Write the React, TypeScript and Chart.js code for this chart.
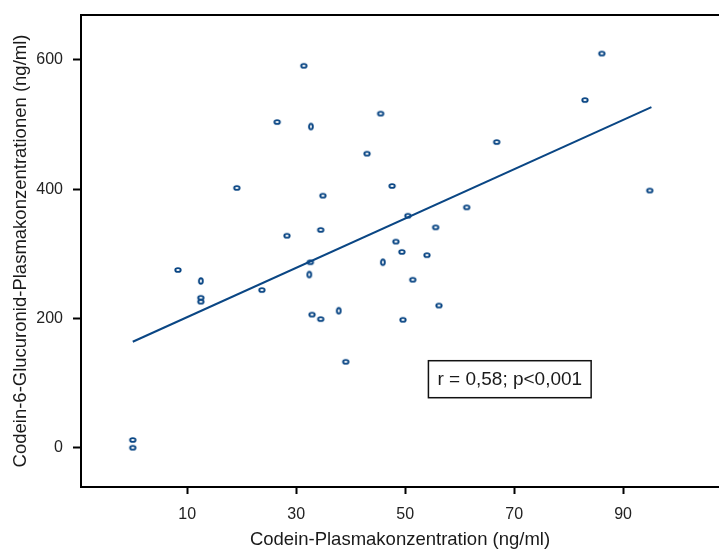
import React, { useEffect, useRef } from "react";
import { Chart, registerables } from "chart.js";

Chart.register(...registerables);

// Horizontal-ellipse markers
const pointsX = [31.4, 26.5, 19.1, 34.9, 45.5, 43.0, 66.8, 47.6, 61.3, 50.5, 55.6, 8.3, 12.5, 12.5, 23.7, 28.3, 34.5, 32.6, 32.9, 34.5, 39.1, 48.3, 49.4, 54.0, 51.4, 56.2, 49.6, 86.1, 83.0, 94.9, 0.0, 0.0];
const pointsY = [591, 504, 402, 390, 517, 455, 473, 405, 372, 359, 341, 275, 232, 226, 244, 328, 337, 287, 206, 199, 133, 319, 303, 298, 260, 220, 198, 610, 538, 398, 12, 0];
// Vertical-ellipse markers
const vPointsX = [32.7, 12.5, 32.4, 37.8, 45.9];
const vPointsY = [497, 258, 268, 212, 287];
// Regression line end points
const regX = [0.0, 95.2];
const regY = [164, 527];

const xTicks = [10, 30, 50, 70, 90];
const yTicks = [0, 200, 400, 600];

const xTitle = "Codein-Plasmakonzentration (ng/ml)";
const yTitle = "Codein-6-Glucuronid-Plasmakonzentrationen (ng/ml)";
const statText = "r = 0,58; p<0,001";
const statAt = { x: 69.2, y: 106 };

const BLUE = "#0a4684";
const FONT = "'Liberation Sans', Arial, sans-serif";

function makeEllipse(rx: number, ry: number) {
  const c = document.createElement("canvas");
  c.width = 10;
  c.height = 10;
  const ctx = c.getContext("2d")!;
  ctx.strokeStyle = BLUE;
  ctx.lineWidth = 1.9;
  ctx.beginPath();
  ctx.ellipse(5, 5, rx, ry, 0, 0, Math.PI * 2);
  ctx.stroke();
  return c;
}

export default function App() {
  const ref = useRef<HTMLCanvasElement | null>(null);

  useEffect(() => {
    if (!ref.current) return;
    const hImg = makeEllipse(2.7, 1.9);
    const vImg = makeEllipse(1.9, 2.8);

    const framePlugin = {
      id: "frame",
      afterDraw(chart: any) {
        const { ctx, chartArea, scales } = chart;
        ctx.save();
        ctx.strokeStyle = "#000";
        ctx.lineWidth = 2;
        ctx.beginPath();
        ctx.moveTo(chartArea.left - 1, chartArea.top);
        ctx.lineTo(chartArea.right, chartArea.top);
        ctx.stroke();

        // stat box
        ctx.font = `19px ${FONT}`;
        const w = ctx.measureText(statText).width + 18;
        const h = 37;
        const cx = scales.x.getPixelForValue(statAt.x);
        const cy = scales.y.getPixelForValue(statAt.y);
        ctx.fillStyle = "#fff";
        ctx.fillRect(cx - w / 2, cy - h / 2, w, h);
        ctx.lineWidth = 1.5;
        ctx.strokeStyle = "#111";
        ctx.strokeRect(cx - w / 2, cy - h / 2, w, h);
        ctx.fillStyle = "#1a1a1a";
        ctx.textAlign = "center";
        ctx.textBaseline = "middle";
        ctx.fillText(statText, cx, cy + 1);
        ctx.restore();
      },
    };

    const chart = new Chart(ref.current, {
      type: "scatter",
      data: {
        datasets: [
          {
            data: regX.map((x, i) => ({ x, y: regY[i] })),
            showLine: true,
            borderColor: BLUE,
            borderWidth: 2,
            pointRadius: 0,
          },
          {
            data: pointsX.map((x, i) => ({ x, y: pointsY[i] })),
            pointStyle: hImg as any,
          },
          {
            data: vPointsX.map((x, i) => ({ x, y: vPointsY[i] })),
            pointStyle: vImg as any,
          },
        ],
      },
      options: {
        animation: false,
        responsive: false,
        layout: { autoPadding: false, padding: { top: 15, right: 0, left: 0, bottom: 0 } },
        plugins: { legend: { display: false }, tooltip: { enabled: false } },
        scales: {
          x: {
            type: "linear",
            min: -9.5,
            max: 107.6,
            afterBuildTicks: (s: any) => {
              s.ticks = xTicks.map((v) => ({ value: v }));
            },
            afterFit: (s: any) => {
              s.height = 64;
              s.paddingLeft = 0;
              s.paddingRight = 0;
            },
            grid: {
              drawOnChartArea: false,
              tickLength: 7,
              tickWidth: 2,
              tickColor: "#000",
            },
            border: { display: true, color: "#000", width: 2 },
            ticks: {
              padding: 11,
              color: "#222",
              font: { family: FONT, size: 16 },
            },
            title: {
              display: true,
              text: xTitle,
              color: "#1a1a1a",
              font: { family: FONT, size: 18.5 },
              padding: { top: 0, bottom: 0 },
            },
          },
          y: {
            type: "linear",
            min: -60.8,
            max: 669.6,
            afterBuildTicks: (s: any) => {
              s.ticks = yTicks.map((v) => ({ value: v }));
            },
            afterFit: (s: any) => {
              s.width = 81;
              s.paddingTop = 0;
              s.paddingBottom = 0;
            },
            grid: {
              drawOnChartArea: false,
              tickLength: 8,
              tickWidth: 2,
              tickColor: "#000",
            },
            border: { display: true, color: "#000", width: 2 },
            ticks: {
              padding: 10,
              color: "#222",
              font: { family: FONT, size: 16 },
            },
            title: {
              display: true,
              text: yTitle,
              color: "#1a1a1a",
              font: { family: FONT, size: 18.5 },
              padding: { top: 10, bottom: 0 },
            },
          },
        },
      },
      plugins: [framePlugin],
    });
    return () => chart.destroy();
  }, []);

  return (
    <div style={{ position: "absolute", left: 0, top: 0, width: 719, height: 551, background: "#fff" }}>
      <canvas ref={ref} width={719} height={551} style={{ display: "block" }} />
    </div>
  );
}
